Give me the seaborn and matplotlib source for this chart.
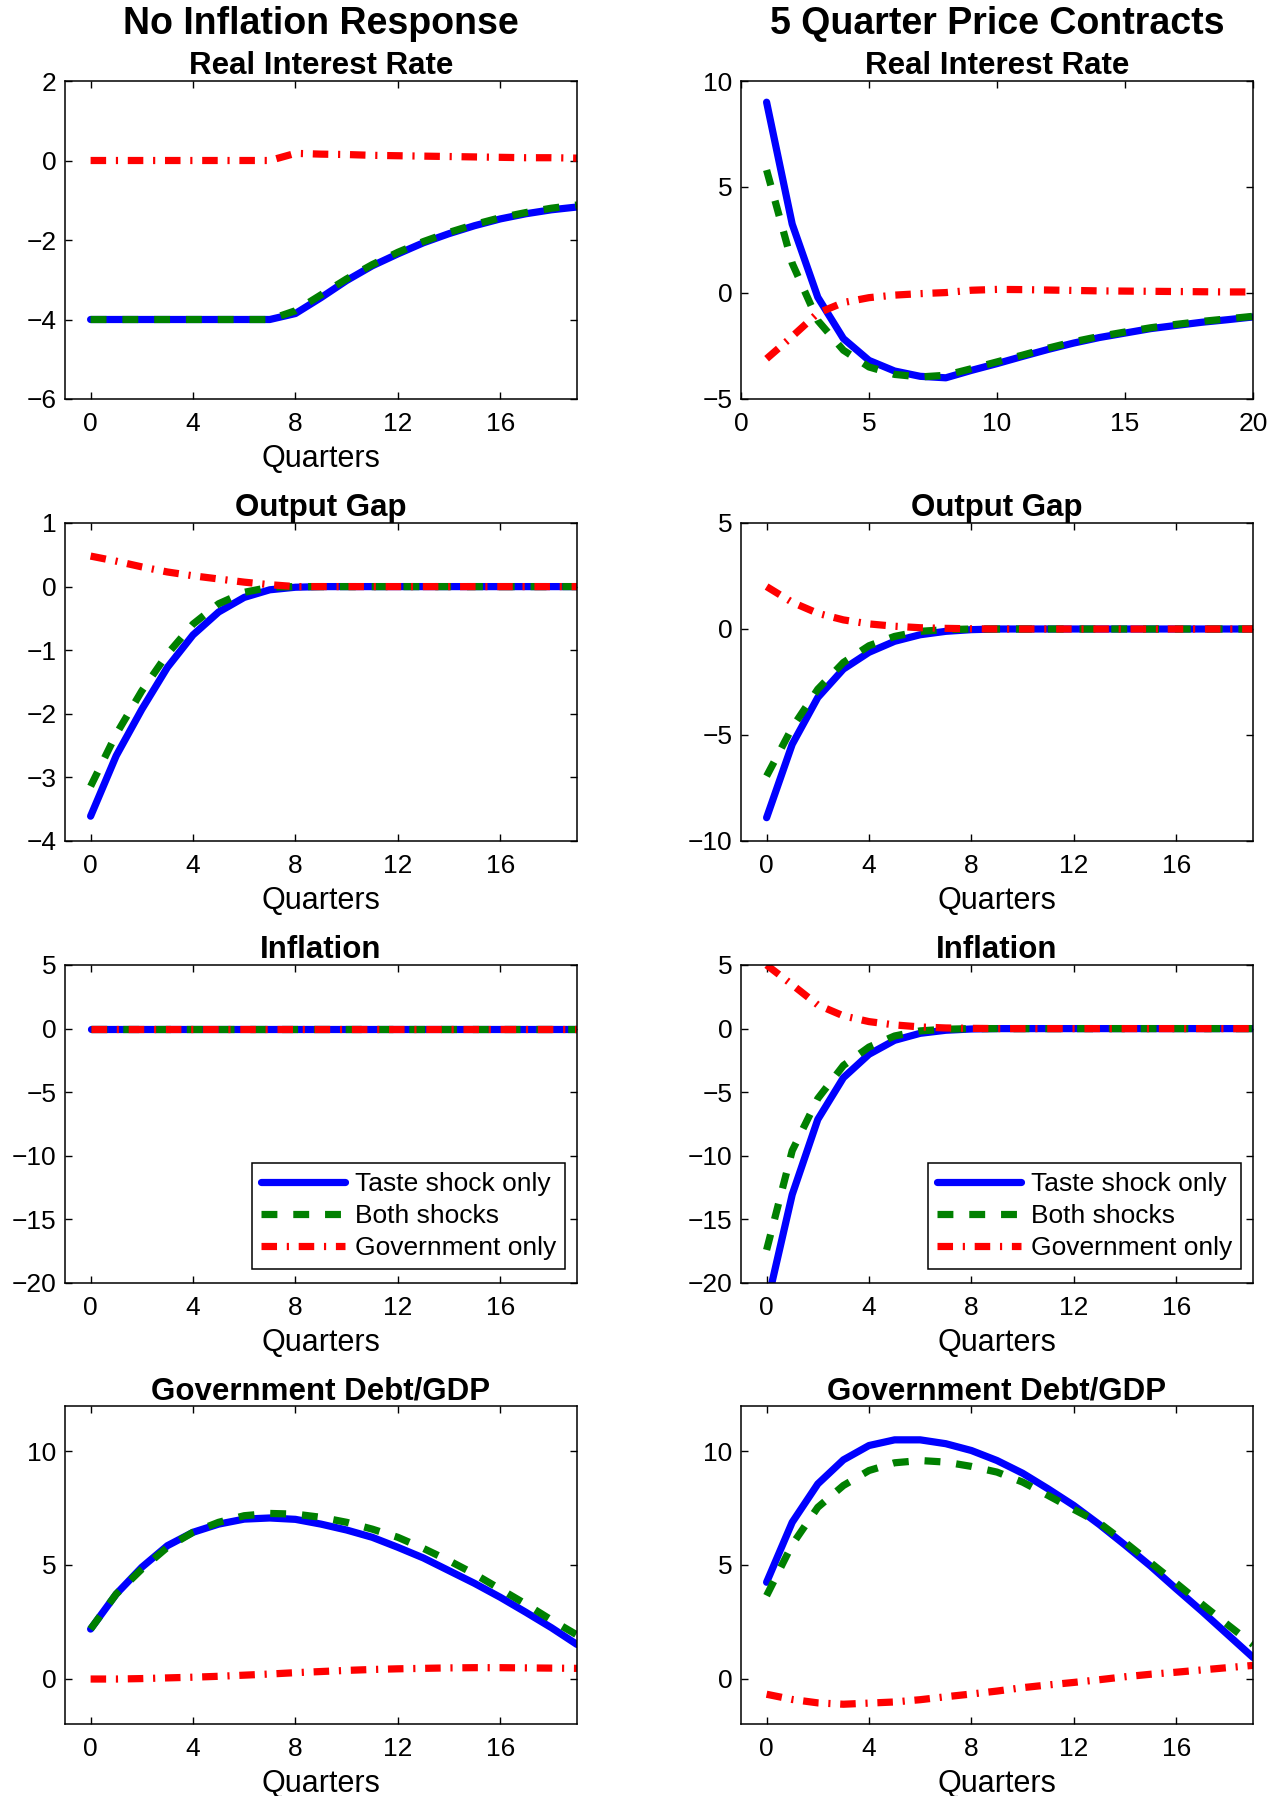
import matplotlib
matplotlib.use("Agg")
import matplotlib.pyplot as plt
import seaborn as sns
import pandas as pd

# ---------------- data ----------------
QUARTERS = [0, 1, 2, 3, 4, 5, 6, 7, 8, 9, 10, 11, 12, 13, 14, 15, 16, 17, 18, 19]
QUARTERS_RIR5 = [1, 2, 3, 4, 5, 6, 7, 8, 9, 10, 11, 12, 13, 14, 15, 16, 17, 18, 19, 20]

SERIES_NAMES = ["Taste shock only", "Both shocks", "Government only"]
COLUMN_TITLES = ["No Inflation Response", "5 Quarter Price Contracts"]
PANEL_TITLES = ["Real Interest Rate", "Output Gap", "Inflation", "Government Debt/GDP"]

# No inflation response
RIR_NI_TASTE = [-4, -4, -4, -4, -4, -4, -4, -4, -3.85, -3.45, -3.02, -2.65, -2.35, -2.07,
                -1.84, -1.64, -1.47, -1.34, -1.24, -1.17]
RIR_NI_BOTH = [-4, -4, -4, -4, -4, -4, -4, -4, -3.78, -3.38, -2.98, -2.62, -2.31, -2.04,
               -1.81, -1.61, -1.44, -1.31, -1.20, -1.12]
RIR_NI_GOV = [0, 0, 0, 0, 0, 0, 0, 0, 0.18, 0.16, 0.15, 0.13, 0.12, 0.11, 0.10, 0.09,
              0.08, 0.07, 0.07, 0.06]

OG_NI_TASTE = [-3.61, -2.66, -1.93, -1.27, -0.76, -0.40, -0.17, -0.05, -0.01, 0, 0, 0, 0, 0,
               0, 0, 0, 0, 0, 0]
OG_NI_BOTH = [-3.14, -2.32, -1.64, -1.06, -0.59, -0.27, -0.09, -0.01, 0, 0, 0, 0, 0, 0,
              0, 0, 0, 0, 0, 0]
OG_NI_GOV = [0.48, 0.40, 0.31, 0.23, 0.17, 0.12, 0.07, 0.03, 0, 0, 0, 0, 0, 0, 0, 0, 0, 0, 0, 0]

INF_NI_TASTE = [0] * 20
INF_NI_BOTH = [0] * 20
INF_NI_GOV = [0] * 20

DEBT_NI_TASTE = [2.18, 3.72, 4.90, 5.85, 6.44, 6.80, 7.02, 7.07, 7.01, 6.80, 6.54, 6.22,
                 5.78, 5.31, 4.75, 4.19, 3.58, 2.92, 2.24, 1.50]
DEBT_NI_BOTH = [2.18, 3.72, 4.82, 5.78, 6.44, 6.88, 7.17, 7.27, 7.24, 7.10, 6.88, 6.58,
                6.22, 5.73, 5.19, 4.60, 3.94, 3.28, 2.58, 1.92]
DEBT_NI_GOV = [-0.02, -0.02, 0.0, 0.03, 0.06, 0.10, 0.15, 0.20, 0.26, 0.31, 0.36, 0.40,
               0.43, 0.45, 0.47, 0.48, 0.48, 0.47, 0.46, 0.45]

# 5 quarter price contracts
RIR_5Q_TASTE = [9.0, 3.25, -0.2, -2.15, -3.18, -3.68, -3.93, -4.0, -3.65, -3.33, -2.99,
                -2.66, -2.36, -2.10, -1.89, -1.68, -1.53, -1.38, -1.26, -1.13]
RIR_5Q_BOTH = [5.8, 1.4, -1.3, -2.7, -3.49, -3.84, -3.96, -3.88, -3.57, -3.25, -2.93,
               -2.60, -2.30, -2.05, -1.84, -1.64, -1.48, -1.34, -1.22, -1.10]
RIR_5Q_GOV = [-3.1, -2.05, -0.95, -0.45, -0.22, -0.10, -0.03, 0.02, 0.13, 0.17, 0.16,
              0.14, 0.12, 0.10, 0.09, 0.08, 0.07, 0.06, 0.05, 0.05]

OG_5Q_TASTE = [-8.9, -5.44, -3.23, -1.89, -1.10, -0.58, -0.27, -0.11, -0.03, 0, 0, 0, 0, 0,
               0, 0, 0, 0, 0, 0]
OG_5Q_BOTH = [-6.94, -4.65, -2.84, -1.58, -0.79, -0.35, -0.11, -0.03, 0, 0, 0, 0, 0, 0,
              0, 0, 0, 0, 0, 0]
OG_5Q_GOV = [2.0, 1.26, 0.74, 0.43, 0.24, 0.13, 0.06, 0.03, 0.01, 0, 0, 0, 0, 0, 0, 0, 0,
             0, 0, 0]

INF_5Q_TASTE = [-21.8, -13.05, -7.14, -3.86, -2.02, -0.92, -0.37, -0.13, -0.03, 0, 0, 0,
                0, 0, 0, 0, 0, 0, 0, 0]
INF_5Q_BOTH = [-17.4, -9.6, -5.5, -2.9, -1.45, -0.58, -0.18, -0.05, 0, 0, 0, 0, 0, 0, 0,
               0, 0, 0, 0, 0]
INF_5Q_GOV = [5.0, 3.45, 1.86, 1.0, 0.55, 0.29, 0.13, 0.05, 0.02, 0, 0, 0, 0, 0, 0, 0, 0,
              0, 0, 0]

DEBT_5Q_TASTE = [4.24, 6.88, 8.57, 9.63, 10.26, 10.51, 10.51, 10.34, 10.04, 9.60, 9.04,
                 8.35, 7.62, 6.78, 5.88, 4.95, 3.95, 2.97, 1.95, 0.93]
DEBT_5Q_BOTH = [3.65, 5.90, 7.54, 8.50, 9.16, 9.50, 9.60, 9.53, 9.34, 9.09, 8.65, 8.06,
                7.45, 6.85, 6.00, 5.10, 4.20, 3.28, 2.38, 1.50]
DEBT_5Q_GOV = [-0.69, -0.92, -1.07, -1.13, -1.08, -1.03, -0.93, -0.80, -0.68, -0.55,
               -0.40, -0.28, -0.17, -0.05, 0.08, 0.19, 0.28, 0.38, 0.48, 0.58]

X_TICKS_Q = [0, 4, 8, 12, 16]
X_TICKS_RIR5 = [0, 5, 10, 15, 20]
Y_TICKS = {
    "RIR_NI": [-6, -4, -2, 0, 2],
    "RIR_5Q": [-5, 0, 5, 10],
    "OG_NI": [-4, -3, -2, -1, 0, 1],
    "OG_5Q": [-10, -5, 0, 5],
    "INF": [-20, -15, -10, -5, 0, 5],
    "DEBT": [0, 5, 10],
}

# ---------------- style ----------------
sns.set_theme(style="white")
plt.rcParams["font.family"] = ["Liberation Sans", "DejaVu Sans"]
plt.rcParams.update({
    "xtick.direction": "in", "ytick.direction": "in",
    "xtick.top": True, "ytick.right": True,
    "xtick.bottom": True, "ytick.left": True,
    "axes.edgecolor": "black", "axes.linewidth": 1.1,
    "xtick.color": "black", "ytick.color": "black",
    "text.color": "black", "axes.labelcolor": "black",
})

COLORS = ["#0000FF", "#008000", "#FF0000"]
LW = 5.2
STYLES = ["-", (0, (2.2, 2.2)), (0, (2.15, 1.35, 0.3, 1.35))]

fig = plt.figure(figsize=(12.83, 17.96), dpi=100)

COL_X = [65 / 1283, 741 / 1283]
AX_W = 512 / 1283
ROW_BOTTOM_PX = [399, 841, 1283, 1724]
AX_H = 318 / 1796

panels = [
    (0, 0, QUARTERS, (RIR_NI_TASTE, RIR_NI_BOTH, RIR_NI_GOV), (-1, 19), X_TICKS_Q, (-6, 2), Y_TICKS["RIR_NI"], True),
    (0, 1, QUARTERS_RIR5, (RIR_5Q_TASTE, RIR_5Q_BOTH, RIR_5Q_GOV), (0, 20), X_TICKS_RIR5, (-5, 10), Y_TICKS["RIR_5Q"], False),
    (1, 0, QUARTERS, (OG_NI_TASTE, OG_NI_BOTH, OG_NI_GOV), (-1, 19), X_TICKS_Q, (-4, 1), Y_TICKS["OG_NI"], True),
    (1, 1, QUARTERS, (OG_5Q_TASTE, OG_5Q_BOTH, OG_5Q_GOV), (-1, 19), X_TICKS_Q, (-10, 5), Y_TICKS["OG_5Q"], True),
    (2, 0, QUARTERS, (INF_NI_TASTE, INF_NI_BOTH, INF_NI_GOV), (-1, 19), X_TICKS_Q, (-20, 5), Y_TICKS["INF"], True),
    (2, 1, QUARTERS, (INF_5Q_TASTE, INF_5Q_BOTH, INF_5Q_GOV), (-1, 19), X_TICKS_Q, (-20, 5), Y_TICKS["INF"], True),
    (3, 0, QUARTERS, (DEBT_NI_TASTE, DEBT_NI_BOTH, DEBT_NI_GOV), (-1, 19), X_TICKS_Q, (-2, 12), Y_TICKS["DEBT"], True),
    (3, 1, QUARTERS, (DEBT_5Q_TASTE, DEBT_5Q_BOTH, DEBT_5Q_GOV), (-1, 19), X_TICKS_Q, (-2, 12), Y_TICKS["DEBT"], True),
]

for row, col, xs, ys, xlim, xticks, ylim, yticks, has_xlabel in panels:
    bottom = 1 - ROW_BOTTOM_PX[row] / 1796
    ax = fig.add_axes([COL_X[col], bottom, AX_W, AX_H])
    for name, y, c, ls in zip(SERIES_NAMES, ys, COLORS, STYLES):
        df = pd.DataFrame({"Quarter": xs, "value": y})
        sns.lineplot(data=df, x="Quarter", y="value", ax=ax, color=c, linewidth=LW,
                     linestyle=ls, label=name, legend=False, errorbar=None)
    ax.set_xlim(*xlim)
    ax.set_ylim(*ylim)
    ax.set_xticks(xticks)
    ax.set_yticks(yticks)
    ax.tick_params(axis="both", labelsize=19, length=5, width=1)
    ax.tick_params(axis="x", pad=9.5)
    ax.tick_params(axis="y", pad=6)
    for sp in ax.spines.values():
        sp.set_visible(True)
        sp.set_color("black")
        sp.set_linewidth(1.1)
    ax.set_title(PANEL_TITLES[row], fontsize=22.5, fontweight="bold", pad=2)
    ax.set_xlabel("Quarters" if has_xlabel else "", fontsize=22, labelpad=5.5)
    ax.set_ylabel("")
    ax.grid(False)
    if row == 2:
        handles = ax.get_lines()[:3]
        leg = ax.legend(handles, SERIES_NAMES, loc="lower right",
                        bbox_to_anchor=(0.9766, 0.044), borderaxespad=0,
                        fontsize=19, handlelength=3.2, handletextpad=0.35,
                        labelspacing=0.3, borderpad=0.35, fancybox=False,
                        framealpha=1, edgecolor="black")
        leg.get_frame().set_linewidth(1.1)

fig.text(0.25, 1 - 24 / 1796, COLUMN_TITLES[0], ha="center", va="center",
         fontsize=27, fontweight="bold")
fig.text(997 / 1283, 1 - 24 / 1796, COLUMN_TITLES[1], ha="center", va="center",
         fontsize=27, fontweight="bold")

fig.savefig("out.png", dpi=100, facecolor="white")
